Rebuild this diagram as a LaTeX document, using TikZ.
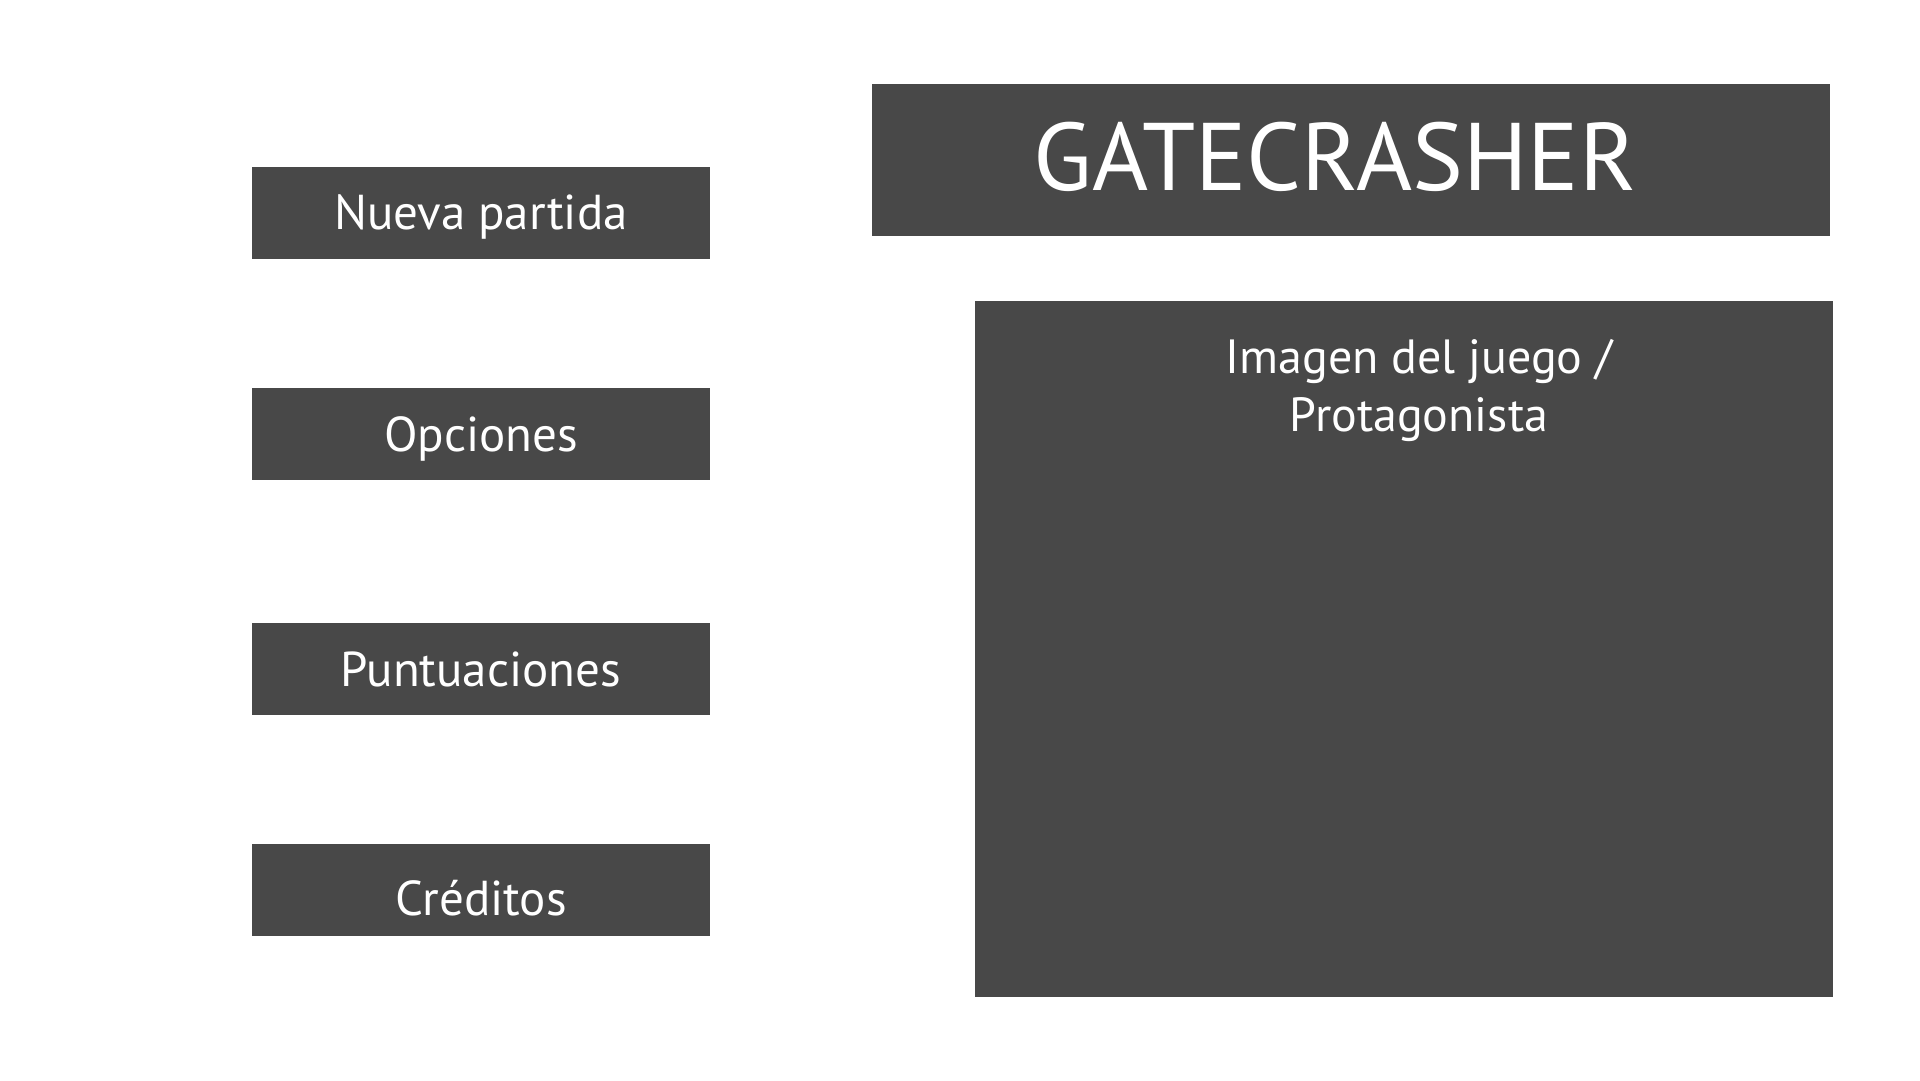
\documentclass[tikz,border=0pt]{standalone}
\usepackage{fontspec}
\setmainfont{PT Sans}
\usepackage{xcolor}
\usepackage{tikz}
\definecolor{boxgray}{RGB}{72,72,72}

\begin{document}
\begin{tikzpicture}[x=1pt, y=-1pt,
    every node/.style={fill=boxgray, text=white, inner sep=0pt},
    menubox/.style={minimum width=458pt, minimum height=92pt, font=\fontsize{49}{58}\selectfont,
        text height=34.3pt, text depth=0pt},
    ]
    \useasboundingbox (0,0) rectangle (1920,1080);
    \node[menubox] (nueva) at (481,212.7) {Nueva partida};
    \node[menubox] (opciones) at (481,434) {Opciones};
    \node[menubox] (puntuaciones) at (481,669) {Puntuaciones};
    \node[menubox, text height=50.3pt] (creditos) at (481,890) {Créditos};
    % titulo y area de imagen
    \node[minimum width=958pt, minimum height=152pt] (titulo) at (1350.5,160) {};
    \node[fill=none, font=\fontsize{96}{115}\selectfont, text height=67.2pt, text depth=0pt] (titulotxt) at (1335,157) {GATECRASHER};
    \node[minimum width=858pt, minimum height=696pt] (imagen) at (1404,649) {};
    \node[fill=none, align=center, font=\fontsize{48}{58}\selectfont] (imagentxt) at (1419,390.5) {Imagen del juego /\\Protagonista};
\end{tikzpicture}
\end{document}
